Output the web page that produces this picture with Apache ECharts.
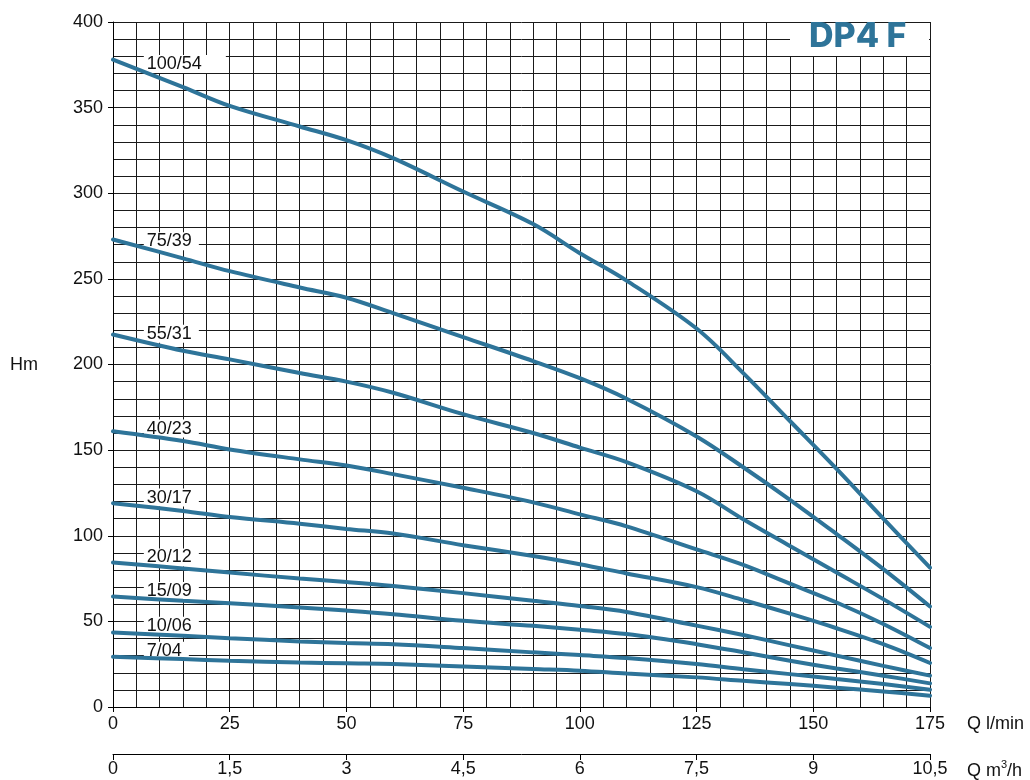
<!DOCTYPE html>
<html><head><meta charset="utf-8">
<script src="https://cdn.jsdelivr.net/npm/echarts@6/dist/echarts.min.js"></script>
<style>html,body{margin:0;padding:0;background:#fff}#c{width:1030px;height:780px}</style>
</head><body><div id="c"></div>
<script>
var flowLmin = [0, 15, 25, 40, 50, 60, 75, 90, 100, 110, 125, 135, 145, 155, 165, 175];
var curveNames = ['100/54', '75/39', '55/31', '40/23', '30/17', '20/12', '15/09', '10/06', '7/04'];
var h100_54 = [378, 362, 351, 339, 331, 320.5, 301, 282, 265, 249, 221, 195, 167, 139, 110, 81.4];
var h75_39 = [273, 262, 254.5, 245, 239, 230, 216, 202, 192, 180, 158, 140, 121, 101, 80.5, 58.7];
var h55_31 = [217.5, 208, 203, 195, 190, 183.5, 171, 160, 151.5, 143, 126, 109.6, 94, 78.5, 63, 46.8];
var h40_23 = [161, 155.3, 150.4, 144.6, 141, 136, 128, 119.5, 112.5, 105.5, 92, 83, 72, 61, 48.5, 34.4];
var h30_17 = [119, 114.5, 111, 107, 104, 101.3, 94.5, 88.2, 83.4, 78, 70, 62.5, 54.5, 46, 36.7, 25.7];
var h20_12 = [84.4, 80.9, 78.5, 75, 73, 70.7, 66.5, 62, 59, 55.5, 47.5, 42, 36, 30, 24, 18.3];
var h15_09 = [64.5, 62, 60.6, 58.1, 56.3, 54.2, 50.3, 47.4, 45.1, 42.6, 36.7, 32, 27, 22.5, 18.3, 13.8];
var h10_06 = [43.5, 41.6, 40.2, 38.3, 37.3, 36.7, 34.4, 31.9, 30.3, 28.6, 25.1, 22, 19.2, 16.3, 13.4, 10.1];
var h7_04 = [29.3, 28, 27, 26, 25.5, 25.1, 23.7, 22.2, 21.2, 19.5, 17.3, 15.3, 13.4, 11.3, 9.1, 6.6];
var curves = [h100_54, h75_39, h55_31, h40_23, h30_17, h20_12, h15_09, h10_06, h7_04];
// label anchor (Q l/min, Hm) for each curve name
var labelQ = 6.6;
var labelH = [375.5, 271.9, 217.9, 162.6, 122.3, 87.3, 67.8, 47.5, 32.9];
var title = 'DP4 F';

var lineColor = '#2e7499';
var txt = '#111';
var series = [];
curves.forEach(function (hs, i) {
  series.push({
    type: 'line', name: curveNames[i], xAxisIndex: 0, yAxisIndex: 0,
    data: flowLmin.map(function (q, k) { return [q, hs[k]]; }),
    smooth: 0.35, showSymbol: false, z: 5,
    lineStyle: { color: lineColor, width: 4, cap: 'round' }
  });
});
series.push({
  type: 'scatter', xAxisIndex: 0, yAxisIndex: 0, z: 3, symbolSize: 0, silent: true,
  itemStyle: { opacity: 1 },
  data: curveNames.map(function (n, i) {
    return { value: [labelQ, labelH[i]], name: n,
      label: { padding: i === 0 ? [0, 24, 0, 3] : [0, 7, 0, 3] } };
  }),
  label: {
    show: true, position: 'right', distance: 0, formatter: '{b}',
    fontFamily: 'Liberation Sans', fontSize: 18, color: txt, opacity: 1,
    backgroundColor: '#fff', padding: [0, 7, 0, 3]
  }
});

var chart = echarts.init(document.getElementById('c'), null, { renderer: 'canvas' });
var gridColor = '#1a1a1a';
chart.setOption({
  animation: false,
  grid: { left: 113, right: 100, top: 22, bottom: 72 },
  xAxis: [{
    type: 'value', min: 0, max: 175, interval: 25, position: 'bottom',
    axisLine: { show: true, lineStyle: { color: '#000', width: 1 } },
    axisTick: { show: true, length: 5, lineStyle: { color: '#000' } },
    axisLabel: { fontFamily: 'Liberation Sans', fontSize: 18, color: txt, margin: 8 },
    splitLine: { show: true, lineStyle: { color: gridColor, width: 1 } },
    minorTick: { show: false, splitNumber: 5 },
    minorSplitLine: { show: true, lineStyle: { color: gridColor, width: 1 } },
    name: 'Q l/min', nameLocation: 'end', nameGap: 37,
    nameTextStyle: { fontFamily: 'Liberation Sans', fontSize: 18, color: txt, align: 'left', verticalAlign: 'top', padding: [8, 0, 0, 0] }
  }, {
    type: 'value', min: 0, max: 10.5, interval: 1.5, position: 'bottom', offset: 47,
    axisLine: { show: true, lineStyle: { color: '#000', width: 1 } },
    axisTick: { show: true, length: 6, lineStyle: { color: '#000' } },
    axisLabel: { fontFamily: 'Liberation Sans', fontSize: 18, color: txt, margin: 6,
      formatter: function (v) { return String(v).replace('.', ','); } },
    splitLine: { show: false },
    name: '{n|Q m}{s|3}{n|/h}', nameLocation: 'end', nameGap: 37,
    nameTextStyle: { align: 'left', verticalAlign: 'top', padding: [5, 0, 0, 0],
      rich: {
        n: { fontFamily: 'Liberation Sans', fontSize: 18, color: txt, verticalAlign: 'bottom' },
        s: { fontFamily: 'Liberation Sans', fontSize: 11, color: txt, verticalAlign: 'top', padding: [0, 0, 10, 0] }
      } }
  }],
  yAxis: {
    type: 'value', min: 0, max: 400, interval: 50,
    axisLine: { show: true, lineStyle: { color: '#000', width: 1 } },
    axisTick: { show: true, length: 5, lineStyle: { color: '#000' } },
    axisLabel: { fontFamily: 'Liberation Sans', fontSize: 18, color: txt, margin: 10 },
    splitLine: { show: true, lineStyle: { color: gridColor, width: 1 } },
    minorTick: { show: false, splitNumber: 5 },
    minorSplitLine: { show: true, lineStyle: { color: gridColor, width: 1 } }
  },
  graphic: [
    { type: 'text', left: 10, top: 356, style: { text: 'Hm', fontFamily: 'Liberation Sans', fontSize: 18, fill: txt } },
    { type: 'rect', shape: { x: 790, y: 23, width: 139, height: 33 }, style: { fill: '#fff' }, z: 10 },
    { type: 'text', left: 809, top: 20, z: 11, style: { text: title, fontFamily: 'Inter', fontWeight: 800, fontSize: 34, fill: '#2e7499' } }
  ],
  series: series
});
</script>
</body></html>
